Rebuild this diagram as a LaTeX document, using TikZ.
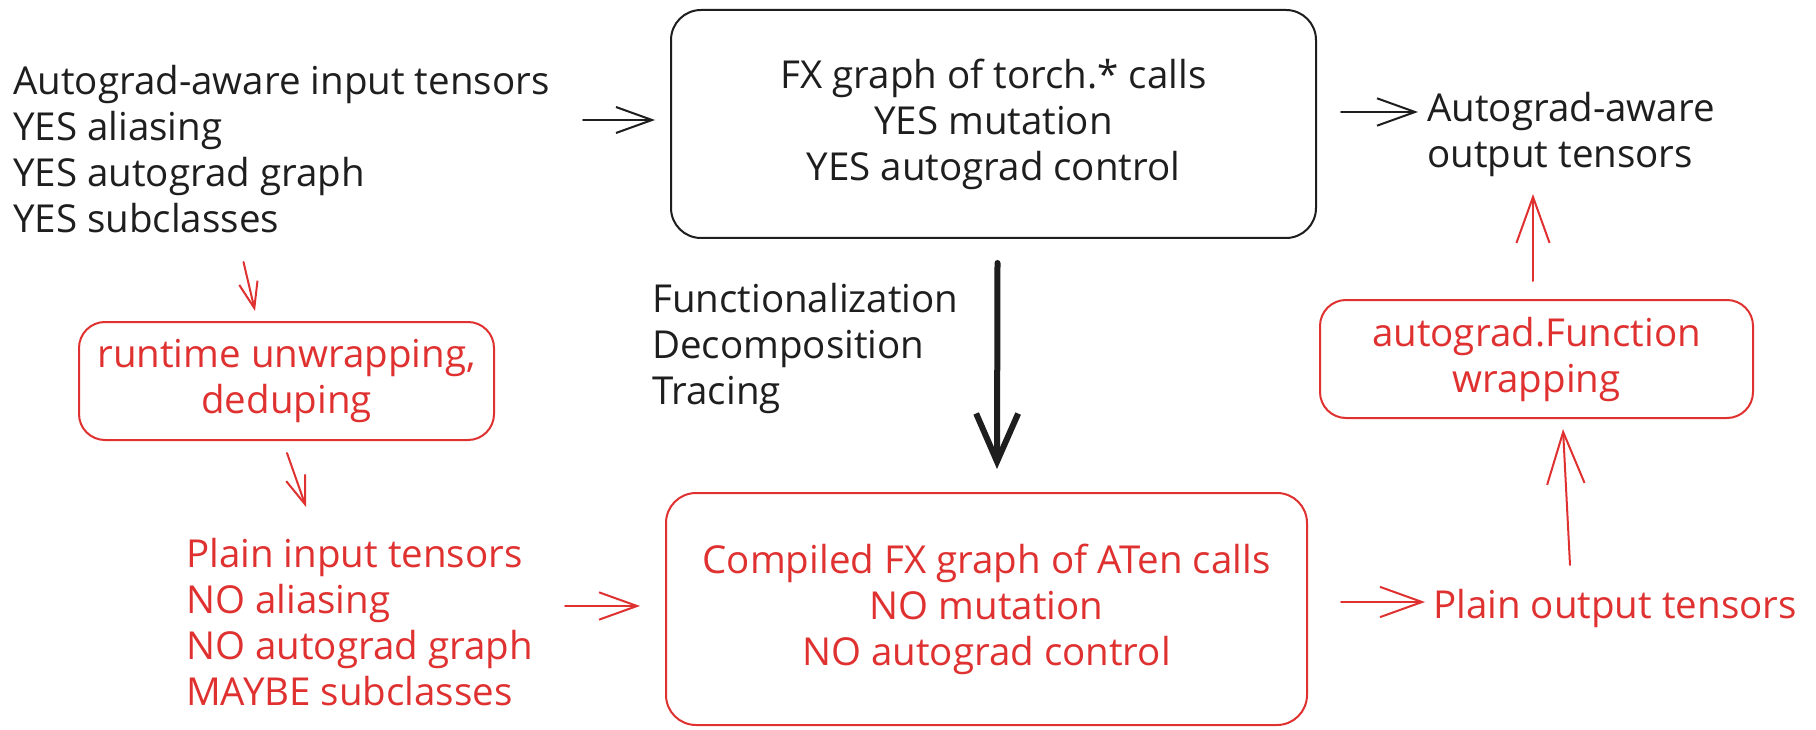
\documentclass[tikz,border=0pt]{standalone}
\usepackage{fontspec}
\setmainfont{Open Sans}
\usetikzlibrary{arrows.meta,calc}
\definecolor{ink}{HTML}{1E1E1E}
\definecolor{redink}{HTML}{E03131}
\tikzset{
  txt/.style={inner sep=0pt, font=\fontsize{38.5}{46}\selectfont},
  lefttxt/.style={txt, anchor=west, align=left},
  stage/.style={draw, line width=2pt, rounded corners=30pt, align=center, inner sep=0pt, font=\fontsize{38.5}{46}\selectfont},
  arr/.style={line width=2pt, -{Straight Barb[length=10pt, width=7.2pt, scale=#1]}},
  bigarr/.style={line width=6pt, -{Straight Barb[length=48pt, width=42pt]}}
}
\begin{document}
\begin{tikzpicture}[x=1pt, y=-1pt, line cap=round, line join=round]
  \useasboundingbox (0,0) rectangle (1816,730);
  \fill[white] (0,0) rectangle (1816,730);

  % stages
  \node[stage, ink, minimum width=645pt, minimum height=228pt] (fx) at (993.5,124)
    {FX graph of torch.* calls\\YES mutation\\YES autograd control};
  \node[stage, redink, minimum width=641pt, minimum height=232pt] (cmp) at (986.5,609)
    {Compiled FX graph of ATen calls\\NO mutation\\NO autograd control};
  \node[stage, redink, rounded corners=26pt, minimum width=433pt, minimum height=118pt] (af) at (1536.5,359)
    {autograd.Function\\wrapping};
  \node[stage, redink, rounded corners=26pt, minimum width=415pt, minimum height=118pt] (rt) at (286.5,381)
    {runtime unwrapping,\\deduping};

  % tensor descriptions
  \node[lefttxt, ink] (inA) at (13,149)
    {Autograd-aware input tensors\\YES aliasing\\YES autograd graph\\YES subclasses};
  \node[lefttxt, ink] (outA) at (1427,135) {Autograd-aware\\output tensors};
  \node[lefttxt, redink] (pIn) at (186,622)
    {Plain input tensors\\NO aliasing\\NO autograd graph\\MAYBE subclasses};
  \node[lefttxt, redink] (pOut) at (1433,608) {Plain output tensors};
  \node[lefttxt, ink] (passes) at (652,348)
    {Functionalization\\Decomposition\\Tracing};

  % free ends of connectors
  \coordinate (inA-out) at (583,120);
  \coordinate (pIn-in) at (306,507);
  \coordinate (pIn-out) at (565,606);
  \coordinate (pOut-up) at (1570,565);

  % black flow
  \draw[ink, arr=3.6] (inA-out) -- ($(fx.west)+(-15,-4)$);
  \draw[ink, arr=3.8] ($(fx.east)+(24,-12)$) -- ($(outA.west)+(-9,-23)$);
  \draw[ink, bigarr] ($(fx.south)+(4,24)$) -- ($(cmp.north)+(10.5,-23)$);

  % red flow
  \draw[redink, arr=2.6] ($(rt.north)+(-43,-59)$) -- ($(rt.north)+(-31.5,-10)$);
  \draw[redink, arr=2.8] ($(rt.south)+(0.5,12)$) -- (pIn-in);
  \draw[redink, arr=3.8] (pIn-out) -- ($(cmp.west)+(-25,-3)$);
  \draw[redink, arr=4.2] ($(cmp.east)+(33,-7)$) -- ($(pOut.west)+(-8,-6)$);
  \draw[redink, arr=5.2] (pOut-up) -- ($(af.south)+(26.5,10)$);
  \draw[redink, arr=4.6] ($(af.north)+(-3.5,-18)$) -- ($(af.north)+(-3.5,-105)$);
\end{tikzpicture}
\end{document}
